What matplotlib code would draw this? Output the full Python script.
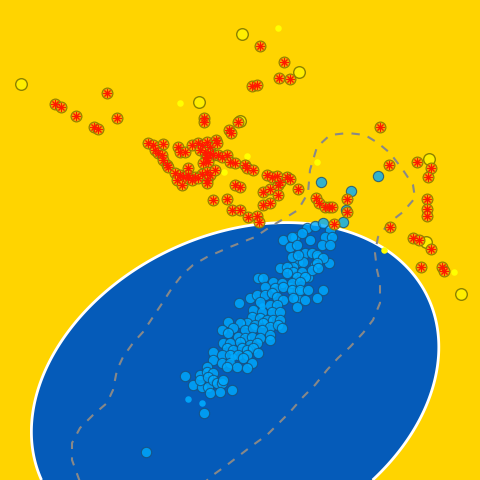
import numpy as np
import matplotlib
matplotlib.use('Agg')
import matplotlib.pyplot as plt

# everything below is in picture units (0..480, y pointing down)

# traced points of the white decision boundary
edge_x = [28, 33, 43, 60, 80, 100, 120, 150, 200, 240, 290, 333, 357, 380, 400, 413, 423, 426,
          430, 430, 425, 417, 400, 380, 53, 37]
edge_y = [420, 387, 363, 340, 317, 297, 280, 263, 248, 235, 223, 222, 227, 238, 255, 273, 300, 310,
          350, 380, 410, 430, 450, 480, 478, 453]

# grey dashed contour
dash_x = [80, 72, 72, 80, 93, 107, 113, 117, 123, 133, 143, 153, 163, 172, 182, 193, 207, 230, 240,
          255, 270, 285, 298, 308, 310, 317, 330, 348, 365, 378, 390, 403, 413, 415, 403, 390, 378,
          375, 377, 380, 380, 373, 363, 350, 338, 327, 315, 303, 290, 280, 267, 253, 240, 227, 213, 205]
dash_y = [482, 460, 443, 428, 415, 403, 390, 370, 357, 343, 332, 317, 302, 288, 275, 265, 257, 247, 243,
          237, 227, 218, 210, 193, 170, 147, 135, 133, 135, 143, 153, 170, 185, 198, 212, 222, 237,
          253, 270, 283, 303, 320, 333, 347, 358, 370, 385, 397, 412, 422, 435, 445, 455, 465, 475, 482]

# inliers (light blue)
inl_x = [307, 315, 323, 330, 325, 332, 295, 310, 322, 330, 283, 292, 302, 290, 297, 305, 312, 318, 298,
         303, 315, 329, 293, 298, 308, 290, 298, 323, 297, 305, 317, 292, 298, 317, 323, 317, 280, 287,
         293, 302, 312, 318, 287, 297, 305, 258, 263, 273, 282, 292, 300, 265, 275, 283, 292, 300, 308,
         250, 257, 265, 272, 277, 283, 293, 239, 260, 270, 277, 297, 253, 262, 272, 280, 252, 260, 267,
         273, 280, 247, 255, 263, 270, 278, 228, 240, 233, 245, 253, 262, 270, 282, 222, 228, 238, 245,
         252, 260, 270, 223, 230, 240, 250, 257, 227, 233, 242, 247, 253, 213, 222, 230, 238, 247, 258,
         213, 222, 230, 237, 243, 252, 207, 227, 247, 200, 207, 213, 185, 193, 202, 208, 200, 208, 213,
         217, 222, 223, 210, 220, 232, 204, 146, 321, 351, 378, 346, 343]
inl_y = [228, 226, 223, 230, 237, 237, 237, 240, 245, 245, 240, 237, 233, 247, 245, 253, 253, 257, 262,
         262, 265, 263, 267, 275, 277, 287, 290, 290, 298, 300, 298, 257, 255, 255, 258, 263, 268, 267,
         272, 272, 270, 268, 273, 277, 277, 278, 278, 282, 283, 283, 282, 287, 288, 287, 290, 290, 290,
         298, 295, 295, 293, 297, 300, 298, 303, 302, 305, 305, 307, 310, 312, 312, 312, 317, 318, 320,
         320, 320, 323, 325, 323, 327, 325, 322, 323, 328, 330, 328, 330, 335, 328, 330, 333, 337, 338,
         337, 338, 340, 343, 343, 342, 345, 343, 348, 350, 348, 350, 348, 352, 355, 355, 355, 355, 353,
         360, 363, 363, 367, 358, 363, 367, 367, 368, 375, 372, 373, 376, 385, 387, 387, 380, 377, 380,
         383, 383, 380, 393, 392, 390, 413, 452, 182, 191, 176, 210, 222]
small_blue_x = [188, 202, 262, 233]
small_blue_y = [399, 403, 306, 357]

# regular outliers (yellow)
yel_x = [21, 242, 199, 299, 240, 429, 426, 461]
yel_y = [84, 34, 102, 72, 121, 159, 242, 294]
small_yel_x = [278, 180, 247, 224, 317, 384, 454]
small_yel_y = [28, 103, 156, 172, 162, 250, 272]

# flagged outliers (orange + red star)
out_x = [260, 284, 279, 290, 252, 257, 107, 55, 61, 76, 94, 98, 117, 204, 204, 238, 229, 231, 380,
         148, 153, 163, 155, 158, 162, 163, 167, 168, 178, 180, 185, 192, 198, 202, 207, 210, 216, 217,
         200, 205, 210, 213, 206, 207, 208, 203, 218, 222, 227, 230, 235, 245, 247, 253,
         188, 175, 180, 183, 188, 177, 182, 195, 202, 207, 210, 215, 188, 192, 198, 207, 207,
         213, 227, 235, 240, 232, 240, 248, 257, 259,
         263, 270, 278, 280, 298, 263, 270, 278, 267, 272, 277, 287, 290,
         316, 319, 325, 329, 332, 347, 347, 334, 390,
         389, 417, 431, 428, 427, 427, 427, 413, 419, 431, 421, 442, 444]
out_y = [46, 62, 78, 79, 86, 85, 93, 104, 107, 116, 127, 129, 118, 118, 122, 122, 130, 133, 127,
         143, 145, 144, 150, 153, 155, 160, 165, 167, 147, 152, 152, 145, 143, 145, 142, 147, 140, 143,
         150, 152, 153, 155, 157, 158, 162, 163, 155, 157, 155, 162, 163, 165, 168, 170,
         168, 173, 175, 177, 175, 180, 185, 177, 174, 172, 175, 170, 178, 180, 178, 180, 183,
         200, 199, 185, 187, 210, 210, 217, 216, 222,
         192, 189, 185, 182, 189, 205, 203, 195, 175, 177, 176, 177, 179,
         198, 203, 207, 207, 207, 199, 212, 224, 227,
         165, 162, 168, 177, 199, 209, 216, 238, 240, 249, 267, 267, 271]

GOLD = '#FFD400'
BLUE = '#055BB9'

# ellipse through the traced boundary (conic least squares)
ex = (np.array(edge_x) - 240) / 200.0
ey = (np.array(edge_y) - 350) / 200.0
M = np.column_stack([ex**2, ex*ey, ey**2, ex, ey])
coef = np.linalg.lstsq(M, np.ones(len(ex)), rcond=None)[0]

gx, gy = np.meshgrid(np.linspace(0, 480, 700), np.linspace(0, 480, 700))
u = (gx - 240) / 200.0
v = (gy - 350) / 200.0
Z = coef[0]*u**2 + coef[1]*u*v + coef[2]*v**2 + coef[3]*u + coef[4]*v

fig = plt.figure(figsize=(4.8, 4.8), dpi=100)
ax = fig.add_axes([0, 0, 1, 1])
ax.contourf(gx, gy, Z, levels=[Z.min() - 1, 1, Z.max() + 1], colors=[BLUE, GOLD])
ax.contour(gx, gy, Z, levels=[1], colors='white', linewidths=2)
ax.plot(dash_x, dash_y, color='#888888', lw=1.5, ls=(0, (4, 4)))

ax.scatter(inl_x, inl_y, s=55, c='#00AAFF', alpha=0.8, edgecolors='#1A4F78', linewidths=0.8, zorder=3)
ax.scatter(small_blue_x, small_blue_y, s=22, c='#00AAFF', alpha=0.9, linewidths=0, zorder=3)
ax.scatter(yel_x, yel_y, s=70, c='#FFEE00', edgecolors='#8C8200', linewidths=1, zorder=4)
ax.scatter(small_yel_x, small_yel_y, s=22, c='#FFFF00', linewidths=0, zorder=4)
ax.scatter(out_x, out_y, s=60, c='#F5A300', edgecolors='#8C7A00', linewidths=0.9, alpha=0.9, zorder=5)
ax.scatter(out_x, out_y, s=30, marker=(8, 2, 0), c='#FF1A00', linewidths=0.7, zorder=6)
ax.scatter(out_x, out_y, s=8, c='#FF1A00', linewidths=0, zorder=6)

ax.set_xlim(0, 480)
ax.set_ylim(480, 0)
ax.axis('off')
fig.savefig('out.png', dpi=100, facecolor=GOLD)
